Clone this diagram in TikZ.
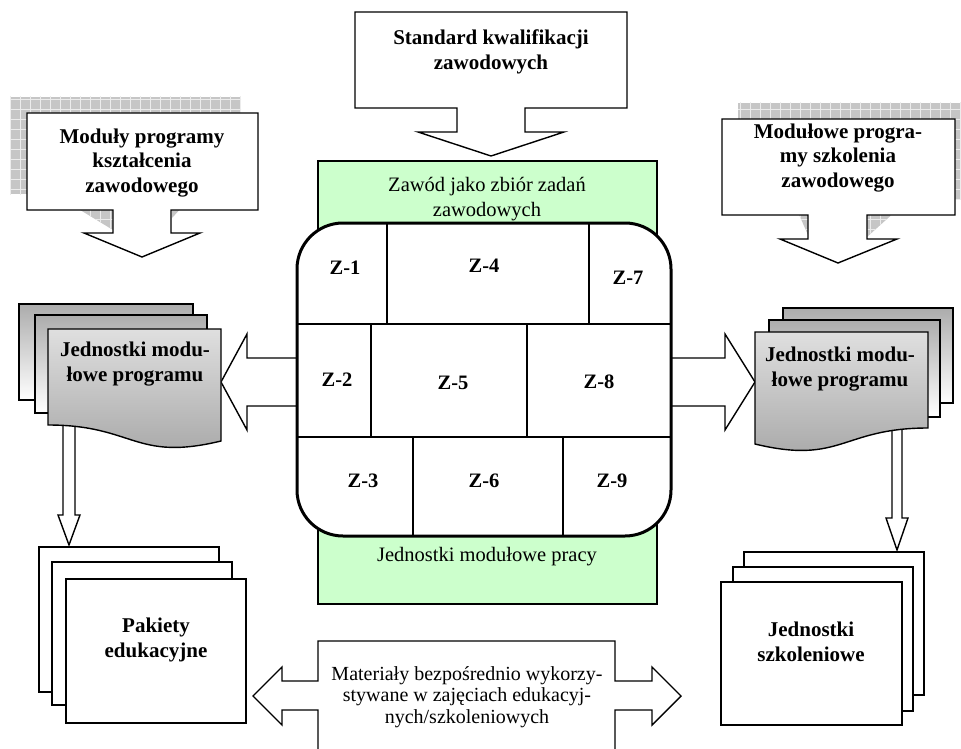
\documentclass[tikz,border=0pt]{standalone}
\usepackage{fontspec}
\setmainfont{Liberation Serif}
\usetikzlibrary{patterns.meta}

\definecolor{jobgreen}{HTML}{CCFFCC}

\begin{document}
\begin{tikzpicture}[
  x=1pt, y=-1pt,
  font=\fontsize{20}{23.5}\selectfont,
  outline/.style={draw=black, line width=1.4pt, fill=white},
  shadowgrid/.style={fill=gray!45, postaction={pattern={Hatch[distance=10pt, line width=0.6pt]}, pattern color=gray!15}},
  pagefront/.style={outline, top color=gray!25, middle color=white, bottom color=gray!70},
  pageback/.style={outline, top color=gray!65, bottom color=white},
  headtext/.style={font=\fontsize{21}{24.5}\selectfont\bfseries, align=center},
  bodytext/.style={font=\fontsize{20.5}{24.5}\selectfont, align=center},
  tasklabel/.style={font=\fontsize{20.5}{24}\selectfont\bfseries},
  gridline/.style={line width=1.2pt},
]
\useasboundingbox (0,0) rectangle (961,749);
\clip (0,0) rectangle (961,749);

% Patterned shadows of the side callouts
\path[shadowgrid] (10,97) rectangle (241,194);
\path[shadowgrid] (72,205) -- (113,205) -- (113,230) -- cycle;
\path[shadowgrid] (172,205) -- (184,205) -- (172,218) -- cycle;
\path[shadowgrid] (738,103) rectangle (971,199);
\path[shadowgrid] (797,210) -- (808,210) -- (808,235) -- cycle;
\path[shadowgrid] (867,210) -- (897,210) -- (867,237) -- cycle;

% Callouts with downward arrows
\draw[outline] (355,12) -- (627,12) -- (627,108) -- (525,108) -- (525,132) -- (564,132)
  -- (491,156) -- (418,132) -- (457,132) -- (457,108) -- (355,108) -- cycle;
\node[headtext] (standard) at (491,52) {Standard kwalifikacji\\zawodowych};

\draw[outline] (27,113) -- (258,113) -- (258,210) -- (171,210) -- (171,233) -- (200,233)
  -- (142,257) -- (84,233) -- (113,233) -- (113,210) -- (27,210) -- cycle;
\node[headtext] (ksztalcenie) at (142,163) {Moduły programy\\kształcenia\\zawodowego};

\draw[outline] (722,119) -- (955,119) -- (955,215) -- (867,215) -- (867,239) -- (897,239)
  -- (838,263) -- (780,239) -- (808,239) -- (808,215) -- (722,215) -- cycle;
\node[headtext] (szkolenie) at (838,158) {Modułowe progra-\\my szkolenia\\zawodowego};

% Green panel of the occupation
\draw[line width=1.2pt, fill=jobgreen] (318,161) rectangle (657,604);
\node[bodytext] (zawod) at (487,199) {Zawód jako zbiór zadań\\zawodowych};
\node[bodytext] (pracy) at (487,557) {Jednostki modułowe pracy};

% Block arrows out of the task grid
\draw[outline] (300,358) -- (247,358) -- (247,334) -- (221,382) -- (247,430) -- (247,406) -- (300,406);
\draw[outline] (668,358) -- (725,358) -- (725,334) -- (755,382) -- (725,430) -- (725,406) -- (668,406);

% Task grid
\draw[line width=3pt, fill=white, rounded corners=46pt] (297,223) rectangle (671,536);
\draw[gridline] (297,324) -- (671,324);
\draw[gridline] (297,437) -- (671,437);
\draw[gridline] (387,223) -- (387,324);
\draw[gridline] (589,223) -- (589,324);
\draw[gridline] (371,324) -- (371,437);
\draw[gridline] (527,324) -- (527,437);
\draw[gridline] (413,437) -- (413,536);
\draw[gridline] (563,437) -- (563,536);
\foreach \n/\x/\y in {1/345/268, 4/484/266, 7/628/278, 2/337/380, 5/453/383,
                      8/599/382, 3/363/481, 6/484/481, 9/612/481}
  \node[tasklabel] (z\n) at (\x,\y) {Z-\n};

% Thin arrows down to the packages
\draw[outline] (63,420) -- (63,515) -- (58,515) -- (69,545) -- (80,515) -- (75,515) -- (75,420);
\draw[outline] (892,420) -- (892,518) -- (886,518) -- (897,550) -- (908,518) -- (902,518) -- (902,420);

% Programme units (document stacks)
\draw[pageback] (19,304) rectangle (193,400);
\draw[pageback] (35,315) rectangle (207,413);
\draw[pagefront] (221,329) -- (48,329) -- (48,425) .. controls (134.5,425) and (134.5,462) .. (221,441) -- cycle;
\node[headtext] (progleft) at (135,364) {Jednostki modu-\\łowe programu};

\draw[pageback] (783,308) rectangle (953,403);
\draw[pageback] (769,320) rectangle (940,417);
\draw[pagefront] (755,332) -- (928,332) -- (928,428) .. controls (841.5,428) and (841.5,465) .. (755,444) -- cycle;
\node[headtext] (progright) at (840,369) {Jednostki modu-\\łowe programu};

% Packages and training units
\draw[outline] (39,547) rectangle (219,692);
\draw[outline] (52,562) rectangle (232,705);
\draw[outline] (66,579) rectangle (246,723);
\node[headtext] (pakiety) at (156,640) {Pakiety\\edukacyjne};

\draw[outline] (744,552) rectangle (924,695);
\draw[outline] (733,567) rectangle (913,711);
\draw[outline] (721,582) rectangle (902,725);
\node[headtext] (szkoleniowe) at (811,642) {Jednostki\\szkoleniowe};

% Materials (double arrow, cut at the bottom)
\draw[outline] (318,800) -- (318,710) -- (282,710) -- (282,725) -- (253,696) -- (282,667)
  -- (282,681) -- (318,681) -- (318,641) -- (615,641) -- (615,681) -- (652,681) -- (652,667)
  -- (681,696) -- (652,725) -- (652,710) -- (615,710) -- (615,800);
\node[bodytext, font=\fontsize{20}{21.5}\selectfont] (materialy) at (467,697) {Materiały bezpośrednio wykorzy-\\stywane w zajęciach edukacyj-\\nych/szkoleniowych};

\end{tikzpicture}
\end{document}
